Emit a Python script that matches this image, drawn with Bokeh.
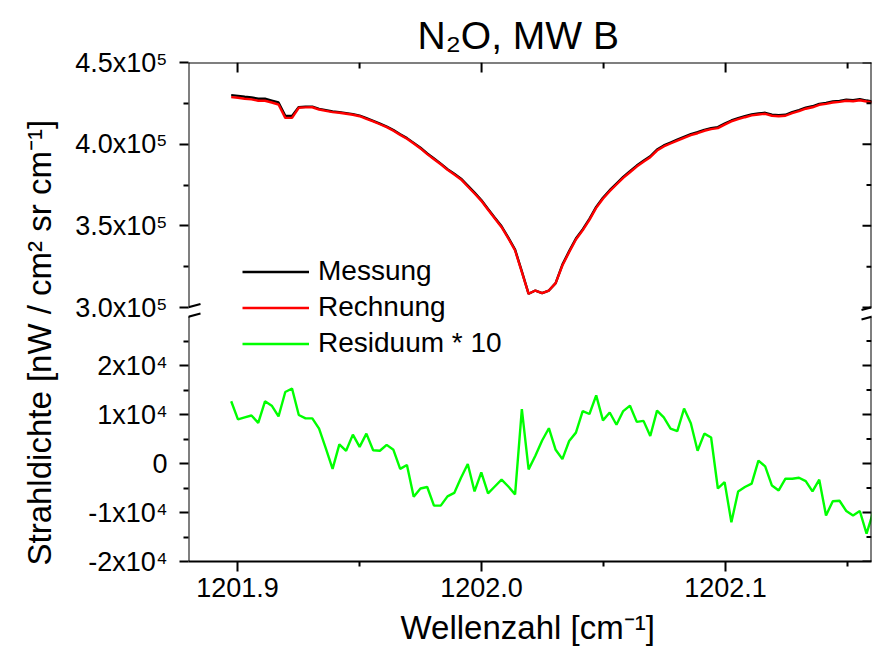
from bokeh.plotting import figure
from bokeh.models import (Range1d, LinearAxis, FixedTicker, Arrow, Title,
                          Legend, LegendItem)
from bokeh.embed import file_html
from bokeh.resources import INLINE

# ---------------- data ----------------
wn_start = 1201.8974          # first sample [cm-1]
wn_step = 0.00277             # sampling step [cm-1]
n_samples = 96
wavenumber = [wn_start + i * wn_step for i in range(n_samples)]

# Strahldichte, units of 1e5 nW/(cm2 sr cm-1)
messung_e5 = [4.300, 4.296, 4.290, 4.286, 4.278, 4.278, 4.267, 4.255, 4.173, 4.173,
              4.227, 4.229, 4.230, 4.216, 4.208, 4.200, 4.196, 4.190, 4.184, 4.175,
              4.159, 4.143, 4.126, 4.108, 4.086, 4.061, 4.037, 4.008, 3.978, 3.943,
              3.912, 3.881, 3.847,
              3.819, 3.789, 3.746, 3.703, 3.658, 3.603, 3.550, 3.497, 3.428, 3.354, 3.221,
              3.084, 3.104, 3.088, 3.104, 3.149,
              3.263, 3.345, 3.422, 3.478, 3.543, 3.616, 3.672, 3.718, 3.759, 3.800,
              3.834, 3.869, 3.898, 3.926, 3.967, 3.992, 4.010, 4.028, 4.045, 4.061,
              4.073, 4.088, 4.098, 4.104,
              4.126, 4.145, 4.159, 4.171, 4.182, 4.188, 4.192, 4.180, 4.177, 4.180,
              4.196, 4.208, 4.223, 4.232, 4.247, 4.253, 4.261, 4.265, 4.272, 4.269,
              4.275, 4.267, 4.261]
rechnung_e5 = [4.288, 4.284, 4.278, 4.274, 4.266, 4.266, 4.255, 4.243, 4.161, 4.161,
               4.223, 4.225, 4.226, 4.212, 4.204, 4.196, 4.192, 4.186, 4.180, 4.171,
               4.155, 4.139, 4.122, 4.104, 4.082, 4.057, 4.033, 4.004, 3.974, 3.939,
               3.908, 3.877, 3.843, 3.814, 3.784, 3.741, 3.698, 3.653, 3.598, 3.545,
               3.492, 3.423, 3.349, 3.216, 3.084, 3.104, 3.088, 3.104, 3.149, 3.257,
               3.339, 3.416, 3.472, 3.537, 3.610, 3.666, 3.712, 3.753, 3.794, 3.828,
               3.863, 3.892, 3.920, 3.961, 3.986, 4.004, 4.022, 4.039, 4.055, 4.067,
               4.082, 4.092, 4.098, 4.120, 4.139, 4.153, 4.165, 4.176, 4.182, 4.186,
               4.174, 4.171, 4.174, 4.190, 4.202, 4.217, 4.226, 4.241, 4.247, 4.255,
               4.259, 4.266, 4.263, 4.269, 4.261, 4.255]
# Residuum * 10, units of 1e4
residuum_e4 = [1.27, 0.90, 0.94, 0.98, 0.83, 1.27, 1.18, 0.96, 1.46, 1.53,
               0.99, 0.92, 0.92, 0.71, 0.31, -0.11, 0.39, 0.26, 0.59, 0.34,
               0.61, 0.27, 0.26, 0.38, 0.28, -0.11, -0.03, -0.68, -0.51, -0.48,
               -0.86, -0.86, -0.67, -0.60, -0.29, -0.01, -0.57, -0.18, -0.61, -0.47,
               -0.33, -0.47, -0.63, 1.11, -0.12, 0.16, 0.47, 0.72, 0.28, 0.09,
               0.46, 0.63, 1.07, 1.01, 1.39, 0.88, 1.04, 0.79, 1.07, 1.18,
               0.85, 0.87, 0.56, 1.08, 0.94, 0.71, 0.66, 1.12, 0.82, 0.26,
               0.61, 0.53, -0.51, -0.38, -1.20, -0.57, -0.48, -0.41, 0.06, -0.06,
               -0.45, -0.55, -0.31, -0.31, -0.29, -0.36, -0.57, -0.33, -1.06, -0.77,
               -0.76, -0.97, -1.06, -0.97, -1.43, -0.98]

series_labels = ["Messung", "Rechnung", "Residuum * 10"]
title_text = "N\u2082O, MW B"
x_title = "Wellenzahl [cm\u207b\u00b9]"
y_title = "Strahldichte [nW / cm\u00b2 sr cm\u207b\u00b9]"

x_major = [1201.9, 1202.0, 1202.1]
x_minor = [1201.95, 1202.05, 1202.15]
x_tick_labels = ["1201.9", "1202.0", "1202.1"]

up_major = [3.0e5, 3.5e5, 4.0e5, 4.5e5]
up_minor = [3.25e5, 3.75e5, 4.25e5]
up_tick_labels = ["3.0x10\u2075", "3.5x10\u2075", "4.0x10\u2075", "4.5x10\u2075"]
low_major = [-2e4, -1e4, 0, 1e4, 2e4]
low_minor = [-1.5e4, -0.5e4, 0.5e4, 1.5e4, 2.5e4]
low_tick_labels = ["-2x10\u2074", "-1x10\u2074", "0", "1x10\u2074", "2x10\u2074"]

# ---------------- layout ----------------
W, H = 876, 653
FL, FR, FT, FB = 188, 871, 62, 561
FONT = "Liberation Sans"

x_start, x_end = 1201.8799, 1202.1598
low_lo, low_hi = -2e4, 3e4
up_lo, up_hi = 3.0e5, 4.5e5
panel_px = 245
frame_px = FB - FT
low_end = round(low_lo + (low_hi - low_lo) * frame_px / panel_px, 3)
up_start = up_hi - (up_hi - up_lo) * frame_px / panel_px
x_per_px = (x_end - x_start) / (FR - FL)
y_per_px = (low_end - low_lo) / frame_px


def up_to_low(u):
    return round(low_end - (up_hi - u) * (low_hi - low_lo) / (up_hi - up_lo), 3)


p = figure(width=W, height=H, x_range=Range1d(x_start, x_end),
           y_range=Range1d(low_lo, low_end + 0.01), output_backend="svg",
           toolbar_location=None, min_border_left=FL, min_border_right=W - FR,
           min_border_top=FT, min_border_bottom=H - FB,
           outline_line_color=None, background_fill_color="white",
           border_fill_color="white", x_axis_type=None, y_axis_type=None)
p.extra_y_ranges = {"upper": Range1d(up_start, up_hi)}

# data lines
mess_y = [v * 1e5 for v in messung_e5]
rech_y = [v * 1e5 for v in rechnung_e5]
res_y = [v * 1e4 for v in residuum_e4]
r_mess = p.line(wavenumber, mess_y, y_range_name="upper", line_color="black", line_width=2.4)
r_rech = p.line(wavenumber, rech_y, y_range_name="upper", line_color="#ff0000", line_width=2.4)
r_res = p.line(wavenumber, res_y, line_color="#00ff00", line_width=2.4)

# bottom x axis
xb = LinearAxis(ticker=FixedTicker(ticks=x_major, minor_ticks=x_minor),
                major_label_overrides=dict(zip(x_major, x_tick_labels)),
                axis_line_width=2, major_tick_line_width=2, minor_tick_line_width=2,
                major_tick_in=0, major_tick_out=10, minor_tick_in=0, minor_tick_out=5,
                major_label_text_font=FONT, major_label_text_font_size="27px",
                major_label_text_color="black", major_label_standoff=6)
p.add_layout(xb, "below")

# left y axis (both panels share one pixel scale)
y_ticks = low_major + [up_to_low(u) for u in up_major]
y_minor = low_minor + [up_to_low(u) for u in up_minor]
y_labels = low_tick_labels + up_tick_labels
yl = LinearAxis(ticker=FixedTicker(ticks=y_ticks, minor_ticks=y_minor),
                major_label_overrides=dict(zip(y_ticks, y_labels)),
                axis_line_color=None, major_tick_line_width=2, minor_tick_line_width=2,
                major_tick_in=0, major_tick_out=9, minor_tick_in=0, minor_tick_out=5,
                major_label_text_font=FONT, major_label_text_font_size="27px",
                major_label_text_color="black", major_label_standoff=12)
p.add_layout(yl, "left")

# inward ticks on top and right edges (mirror of the tick arrays)
p.segment(x0=x_major, y0=[low_end] * len(x_major), x1=x_major,
          y1=[low_end - 10 * y_per_px] * len(x_major), line_color="black", line_width=2)
p.segment(x0=x_minor, y0=[low_end] * len(x_minor), x1=x_minor,
          y1=[low_end - 6 * y_per_px] * len(x_minor), line_color="black", line_width=2)
p.segment(x0=[x_end] * len(y_ticks), y0=y_ticks, x1=[x_end - 9 * x_per_px] * len(y_ticks),
          y1=y_ticks, line_color="black", line_width=2)
p.segment(x0=[x_end] * len(y_minor), y0=y_minor, x1=[x_end - 5 * x_per_px] * len(y_minor),
          y1=y_minor, line_color="black", line_width=2)


def seg(x0, y0, x1, y1):
    p.add_layout(Arrow(end=None, x_start=x0, y_start=y0, x_end=x1, y_end=y1,
                       start_units="canvas", end_units="canvas",
                       line_width=2, line_color="black"))


# top frame line, broken vertical frame lines and break marks
seg(FL - 1, FT, FR + 1, FT)
for xe, dl, dr in ((FL, 10, 12), (FR, 10, 3)):
    seg(xe, FT - 1, xe, 306)
    seg(xe, 316, xe, FB + 1)
    seg(xe - dl, 309.5, xe + dr, 303.5 + (12 - dr) * 0.27)
    seg(xe - dl, 319, xe + dr, 313 + (12 - dr) * 0.27)

# legend
legend = Legend(items=[LegendItem(label=series_labels[0], renderers=[r_mess]),
                       LegendItem(label=series_labels[1], renderers=[r_rech]),
                       LegendItem(label=series_labels[2], renderers=[r_res])],
                location=(54, 202), glyph_width=67, glyph_height=31, label_height=31,
                spacing=4, label_standoff=9, padding=0, margin=0,
                border_line_color=None, background_fill_alpha=0,
                label_text_font=FONT, label_text_font_size="28px",
                label_text_color="black")
p.add_layout(legend)

# titles
p.title.text = title_text
p.title.align = "left"
p.title.offset = 229
p.title.text_font = FONT
p.title.text_font_size = "39px"
p.title.text_font_style = "normal"
p.title.text_color = "black"
p.title.standoff = 12

p.add_layout(Title(text=x_title, align="left", offset=212, text_font=FONT,
                   text_font_size="33px", text_font_style="normal",
                   text_color="black", standoff=14), "below")
p.add_layout(Title(text=y_title, align="left", offset=-4, text_font=FONT,
                   text_font_size="33px", text_font_style="normal",
                   text_color="black", standoff=30), "left")

open("out.html", "w").write(file_html(p, INLINE))
